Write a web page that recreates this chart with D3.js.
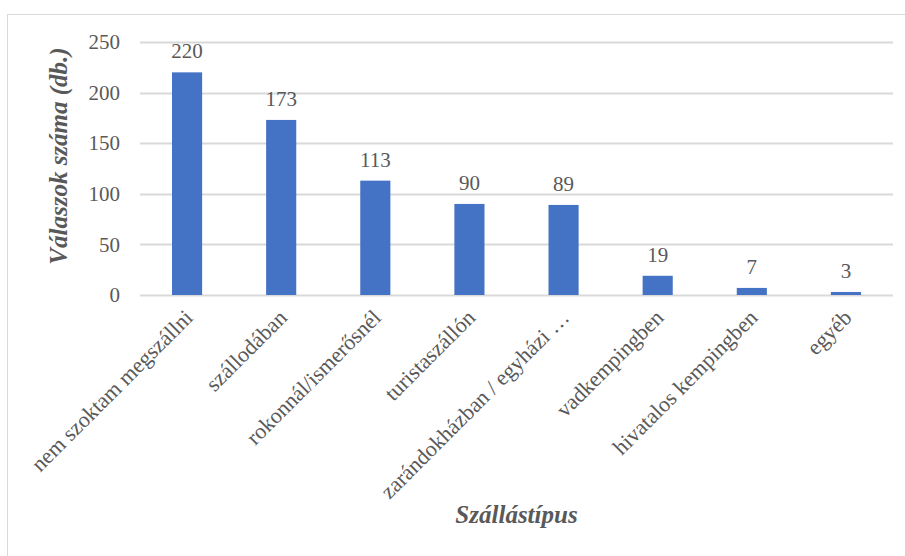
<!DOCTYPE html>
<html>
<head>
<meta charset="utf-8">
<script src="https://cdn.jsdelivr.net/npm/d3@7"></script>
<style>
  body { margin: 0; background: #fff; }
  svg text { font-family: "Times New Roman", "Liberation Serif", "DejaVu Serif", serif !important; fill: #595959; }
</style>
</head>
<body>
<div id="chart"></div>
<script>
// data
var categories = ["nem szoktam megszállni", "szállodában", "rokonnál/ismerősnél", "turistaszállón",
  "zarándokházban / egyházi …", "vadkempingben", "hivatalos kempingben", "egyéb"];
var values = [220, 173, 113, 90, 89, 19, 7, 3];
var yTicks = [0, 50, 100, 150, 200, 250];

var width = 905, height = 556;
var margin = {top: 42, right: 12, bottom: 261, left: 140};

var svg = d3.select("#chart")
  .append("svg")
  .attr("width", width)
  .attr("height", height);

// outer frame (cropped chart area)
svg.append("rect")
  .attr("x", 7.5)
  .attr("y", 14.5)
  .attr("width", width)
  .attr("height", height)
  .attr("fill", "none")
  .attr("stroke", "#d9d9d9");

var x = d3.scaleBand()
  .domain(categories)
  .range([margin.left, width - margin.right])
  .paddingInner(0.68)
  .paddingOuter(0.34);

var y = d3.scaleLinear()
  .domain([0, 250])
  .range([height - margin.bottom, margin.top]);

// gridlines
svg.append("g")
  .attr("class", "grid")
  .selectAll("line")
  .data(yTicks)
  .enter()
  .append("line")
  .attr("x1", margin.left)
  .attr("x2", width - margin.right)
  .attr("y1", function (d) { return Math.round(y(d)) + 0.5; })
  .attr("y2", function (d) { return Math.round(y(d)) + 0.5; })
  .attr("stroke", "#d9d9d9")
  .attr("stroke-width", 2);

// y axis labels
var yAxis = d3.axisLeft(y).tickValues(yTicks).tickSize(0).tickPadding(20);
svg.append("g")
  .attr("transform", "translate(" + margin.left + ",0)")
  .call(yAxis)
  .call(function (g) { g.select(".domain").remove(); })
  .selectAll("text")
  .style("font-size", "21px")
  .attr("fill", "#595959");

// bars
svg.append("g")
  .selectAll("rect")
  .data(values)
  .enter()
  .append("rect")
  .attr("x", function (d, i) { return x(categories[i]); })
  .attr("width", x.bandwidth())
  .attr("y", function (d) { return y(d); })
  .attr("height", function (d) { return y(0) - y(d); })
  .attr("fill", "#4472c4");

// value labels
svg.append("g")
  .selectAll("text")
  .data(values)
  .enter()
  .append("text")
  .attr("x", function (d, i) { return x(categories[i]) + x.bandwidth() / 2; })
  .attr("y", function (d) { return y(d) - 14; })
  .attr("text-anchor", "middle")
  .style("font-size", "21px")
  .text(function (d) { return d; });

// x axis labels
var xAxis = d3.axisBottom(x).tickSize(0).tickPadding(0);
svg.append("g")
  .attr("transform", "translate(0," + y(0) + ")")
  .call(xAxis)
  .call(function (g) { g.select(".domain").remove(); })
  .selectAll("text")
  .style("font-size", "22px")
  .attr("fill", "#595959")
  .attr("text-anchor", "end")
  .attr("dy", null)
  .attr("y", 0)
  .attr("transform", "translate(7,24) rotate(-45)");

// axis titles
svg.append("text")
  .attr("transform", "translate(67,156) rotate(-90)")
  .attr("text-anchor", "middle")
  .style("font-size", "25px")
  .style("font-weight", "bold")
  .style("font-style", "italic")
  .text("Válaszok száma (db.)");

svg.append("text")
  .attr("x", (margin.left + width - margin.right) / 2)
  .attr("y", 523)
  .attr("text-anchor", "middle")
  .style("font-size", "25px")
  .style("font-weight", "bold")
  .style("font-style", "italic")
  .text("Szállástípus");
</script>
</body>
</html>
